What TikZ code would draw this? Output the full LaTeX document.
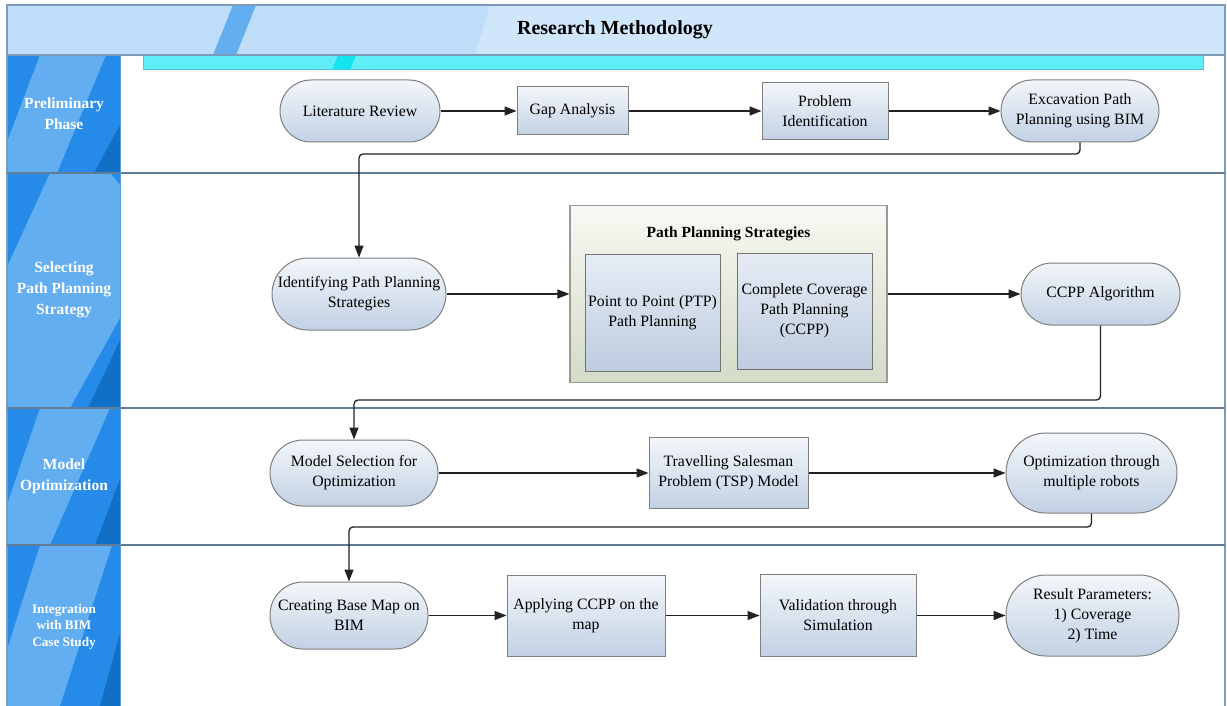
\documentclass[tikz,border=0pt]{standalone}
\usepackage{fontspec}
\setmainfont{Liberation Serif}
\usetikzlibrary{arrows.meta}

\definecolor{hdrbase}{HTML}{D0E6FA}
\definecolor{hdrleft}{HTML}{BFDDF8}
\definecolor{hdrstripe}{HTML}{62AEEE}
\definecolor{cyanbar}{HTML}{5EEFF8}
\definecolor{cyandark}{HTML}{14E4EF}
\definecolor{cyanedge}{HTML}{52C0DA}
\definecolor{lanemid}{HTML}{268BE8}
\definecolor{lanelight}{HTML}{62AEF0}
\definecolor{lanedark}{HTML}{1170C6}
\definecolor{frameline}{HTML}{7D9CBB}
\definecolor{nodetop}{HTML}{F3F6FA}
\definecolor{nodebot}{HTML}{C2D1E4}
\definecolor{nodeedge}{HTML}{7F7F7F}
\definecolor{grouptop}{HTML}{F8F9F3}
\definecolor{groupbot}{HTML}{D4DBC7}
\definecolor{subtop}{HTML}{E6ECF4}
\definecolor{subbot}{HTML}{BECCE0}
\definecolor{connline}{HTML}{222222}

\tikzset{
  txt/.style={font=\fontsize{15.8}{20}\selectfont, align=center, text=black, inner sep=0pt},
  boxbase/.style={txt, draw=nodeedge, line width=1pt, top color=nodetop, bottom color=nodebot},
  stad/.style={boxbase, rectangle},
  procbox/.style={boxbase, rectangle},
  groupbox/.style={draw=nodeedge!80, line width=1.2pt, top color=grouptop, bottom color=groupbot, rectangle, inner sep=0pt},
  subbox/.style={txt, draw=nodeedge!90!black, line width=1pt, top color=subtop, bottom color=subbot, rectangle},
  lanelabel/.style={font=\bfseries\fontsize{15.5}{21}\selectfont, align=center, text=white, inner sep=0pt},
  conn/.style={draw=connline, line width=1.3pt},
  arr/.style={conn, -{Triangle[length=12pt,width=9pt]}},
  turn/.style={arr, rounded corners=4pt}
}

\begin{document}
\begin{tikzpicture}[x=1pt,y=-1pt]
\useasboundingbox (0,0) rectangle (1227,706);
\fill[white] (0,0) rectangle (1227,706);

% header band
\fill[hdrbase] (7,5) rectangle (1225,55);
\fill[hdrleft] (7,5) -- (490,5) -- (475,55) -- (7,55) -- cycle;
\fill[hdrstripe] (233,5) -- (256,5) -- (236,55) -- (213,55) -- cycle;
\node[font=\bfseries\fontsize{20}{22}\selectfont] (title) at (615,30) {Research Methodology};

% swimlane header cells: base, light diagonal band, dark corner
\fill[lanemid] (7,55) rectangle (120,706);
\fill[lanelight] (40,55) -- (106,55) -- (57,173) -- (7,173) -- (7,142) -- cycle;
\fill[lanedark] (120,125) -- (120,173) -- (94,173) -- cycle;

\fill[lanelight] (50,173) -- (110,173) -- (120,185) -- (120,318) -- (70,408) -- (7,408) -- (7,267) -- cycle;
\fill[lanedark] (120,340) -- (120,408) -- (88,408) -- cycle;

\fill[lanelight] (40,408) -- (110,408) -- (50,545) -- (7,545) -- (7,505) -- cycle;
\fill[lanedark] (120,479) -- (120,545) -- (95,545) -- cycle;

\fill[lanelight] (40,545) -- (112,545) -- (60,706) -- (7,706) -- (7,650) -- cycle;
\fill[lanedark] (120,633) -- (120,706) -- (100,706) -- cycle;

% cyan bar
\draw[cyanedge, line width=1pt, fill=cyanbar] (143,55) rectangle (1203,70);
\fill[cyandark] (338,55.5) -- (356,55.5) -- (350,69.5) -- (332,69.5) -- cycle;

% frame and lane dividers
\draw[frameline, line width=1.2pt] (7,706) -- (7,5) -- (1225,5) -- (1225,706);
\draw[frameline, line width=1.2pt] (7,55) -- (1225,55);
\draw[frameline!80!black, line width=1.4pt] (7,173) -- (1225,173);
\draw[frameline!80!black, line width=1.4pt] (7,408) -- (1225,408);
\draw[frameline!80!black, line width=1.4pt] (7,545) -- (1225,545);
\draw[lanedark!70!white, line width=0.8pt] (120,55) -- (120,706);

% lane labels
\node[lanelabel] (l1) at (64,113.5) {Preliminary\\Phase};
\node[lanelabel] (l2) at (64,290) {Selecting\\Path Planning\\Strategy};
\node[lanelabel] (l3) at (64,476) {Model\\Optimization};
\node[lanelabel, font=\bfseries\fontsize{13.2}{16.5}\selectfont] (l4) at (64,626.5) {Integration\\with BIM\\Case Study};

% lane 1
\node[stad, minimum width=160pt, minimum height=62pt, rounded corners=31pt] (litrev) at (360,111) {Literature Review};
\node[procbox, minimum width=111pt, minimum height=48pt] (gap) at (572.5,111) {Gap Analysis};
\node[procbox, minimum width=126pt, minimum height=57pt] (probid) at (825,111) {Problem\\Identification};
\node[stad, minimum width=158pt, minimum height=62pt, rounded corners=31pt] (excav) at (1080,111) {Excavation Path\\Planning using BIM};

% lane 2
\node[stad, minimum width=174pt, minimum height=72pt, rounded corners=36pt] (ident) at (359,294) {Identifying Path Planning\\Strategies};
\node[groupbox, minimum width=317pt, minimum height=177pt] (pps) at (728.5,294) {};
\node[txt, font=\bfseries\fontsize{15.5}{20}\selectfont] (ppstitle) at (728.5,234) {Path Planning Strategies};
\node[subbox, minimum width=135pt, minimum height=117pt] (ptp) at (652.5,312.5) {Point to Point (PTP)\\Path Planning};
\node[subbox, minimum width=135pt, minimum height=116pt] (ccpp) at (804.5,311) {Complete Coverage\\Path Planning\\(CCPP)};
\node[stad, minimum width=159pt, minimum height=62pt, rounded corners=31pt] (ccppalg) at (1100.5,294) {CCPP Algorithm};

% lane 3
\node[stad, minimum width=168pt, minimum height=66pt, rounded corners=33pt] (modelsel) at (354,473) {Model Selection for\\Optimization};
\node[procbox, minimum width=159pt, minimum height=71pt] (tsp) at (728.5,473) {Travelling Salesman\\Problem (TSP) Model};
\node[stad, minimum width=171pt, minimum height=80pt, rounded corners=40pt] (multi) at (1091.5,473) {Optimization through\\multiple robots};

% lane 4
\node[stad, minimum width=158pt, minimum height=67pt, rounded corners=33pt] (basemap) at (349,615.5) {Creating Base Map on\\BIM};
\node[procbox, minimum width=158pt, minimum height=81pt] (apply) at (586,615.5) {Applying CCPP on the\\map};
\node[procbox, minimum width=156pt, minimum height=82pt] (valid) at (838,615.5) {Validation through\\Simulation};
\node[stad, minimum width=173pt, minimum height=81pt, rounded corners=40pt] (result) at (1092.5,615.5) {Result Parameters:\\1) Coverage\\2) Time};

% connectors
\draw[arr] (litrev) -- (gap);
\draw[arr] (gap) -- (probid);
\draw[arr] (probid) -- (excav);
\draw[turn] (excav.south) -- (excav.south |- 0,154) -| (ident.north);

\draw[arr] (ident) -- (pps);
\draw[arr] (pps) -- (ccppalg);
\draw[turn] (ccppalg.south) -- (ccppalg.south |- 0,400) -| (modelsel.north);

\draw[arr] (modelsel) -- (tsp);
\draw[arr] (tsp) -- (multi);
\draw[turn] (multi.south) -- (multi.south |- 0,527) -| (basemap.north);

\draw[arr] (basemap) -- (apply);
\draw[arr] (apply) -- (valid);
\draw[arr] (valid) -- (result);
\end{tikzpicture}
\end{document}
